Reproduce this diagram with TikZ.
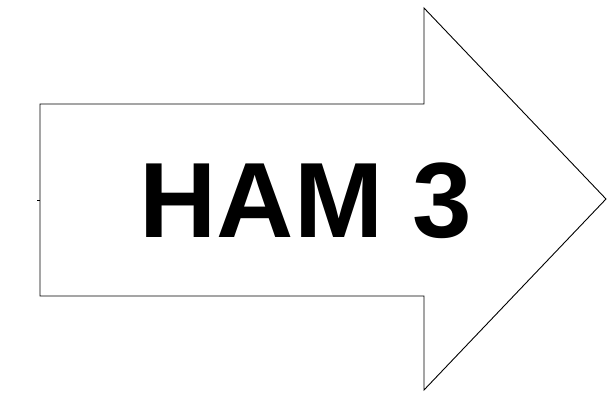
\documentclass[tikz,border=0pt]{standalone}
\usepackage{fontspec}
\setmainfont{Liberation Sans}
\begin{document}
\begin{tikzpicture}[x=1pt,y=-1pt,
  outline/.style={draw=black,line width=0.9pt,line join=miter},
  label/.style={font=\bfseries\fontsize{107}{107}\selectfont,inner sep=0pt,anchor=base}]
\useasboundingbox (0,0) rectangle (608,396);
\coordinate (s1) at (40,104);
\coordinate (s2) at (424,104);
\coordinate (h1) at (424,8);
\coordinate (tip) at (606,199);
\coordinate (h2) at (424,390);
\coordinate (s3) at (424,296);
\coordinate (s4) at (40,296);
\draw[outline] (s1) -- (s2) -- (h1) -- (tip) -- (h2) -- (s3) -- (s4) -- cycle;
\coordinate (t1) at (37,200);
\coordinate (t2) at (40,200);
\draw[line width=0.9pt] (t1) -- (t2);
\node[label] (txt) at (306,237) {HAM 3};
\end{tikzpicture}
\end{document}
